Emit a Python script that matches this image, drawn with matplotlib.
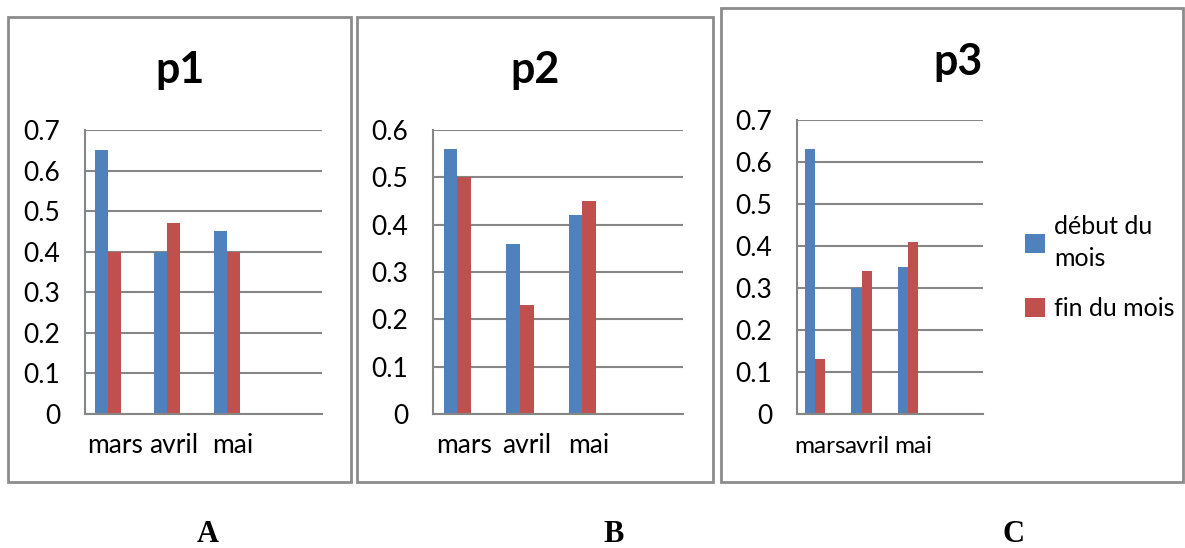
import matplotlib
matplotlib.use("Agg")
import matplotlib.pyplot as plt
from matplotlib.patches import Rectangle

plt.rcParams['font.family'] = ['Lato', 'DejaVu Sans']

months = ['mars', 'avril', 'mai']
series_names = ['début du\nmois', 'fin du mois']

p1_debut = [0.65, 0.40, 0.45]
p1_fin = [0.40, 0.47, 0.40]
p2_debut = [0.56, 0.36, 0.42]
p2_fin = [0.50, 0.23, 0.45]
p3_debut = [0.63, 0.30, 0.35]
p3_fin = [0.13, 0.34, 0.41]

titles = ['p1', 'p2', 'p3']
letters = ['A', 'B', 'C']
ymax = [0.7, 0.6, 0.7]

BLUE = '#4F81BD'
RED = '#C0504D'
GRID = '#868686'
FS = 19

W, H = 1185, 548
fig = plt.figure(figsize=(W / 100, H / 100), dpi=100)


def fx(x):
    return x / W


def fy(y):
    return 1 - y / H


# pixel layout (left, right, top, bottom) of plot areas
areas = [(85, 322, 130, 414), (433, 683, 130, 414), (797, 983, 120, 414)]
boxes = [(8, 17, 351, 482), (357, 17, 713, 482), (721, 8, 1183, 482)]
title_pos = [(180, 70), (535, 70), (958, 62)]
letter_pos = [(208, 535), (614, 535), (1013, 535)]
xlab_size = [FS, FS, FS - 1.5]
xlab_pad = [14, 14, 15.5]
data = [(p1_debut, p1_fin), (p2_debut, p2_fin), (p3_debut, p3_fin)]

for (x0, y0, x1, y1) in boxes:
    fig.patches.append(Rectangle((fx(x0), fy(y1)), fx(x1 - x0), (y1 - y0) / H,
                                 transform=fig.transFigure, fill=False,
                                 edgecolor='#8c8c8c', linewidth=2))

w = 0.22
cats = list(range(len(months) + 1))
axes = []
for i, ((l, r, t, b), (deb, fin)) in enumerate(zip(areas, data)):
    ax = fig.add_axes([fx(l), fy(b), fx(r - l), (b - t) / H])
    x = list(range(len(months)))
    ax.bar([v - w for v in x], deb, width=w, color=BLUE, label=series_names[0], zorder=3)
    ax.bar(x, fin, width=w, color=RED, label=series_names[1], zorder=3)
    ax.set_xlim(-0.5, 3.5)
    ax.set_ylim(0, ymax[i])
    ticks = [k / 10 for k in range(int(round(ymax[i] * 10)) + 1)]
    ax.set_yticks(ticks)
    ax.set_yticklabels(['0' if v == 0 else f'{v:.1f}' for v in ticks])
    ax.set_xticks(cats)
    ax.set_xticklabels(months + [''])
    ax.tick_params(axis='y', length=0, pad=18, labelsize=FS)
    ax.tick_params(axis='x', length=0, pad=xlab_pad[i], labelsize=xlab_size[i])
    ax.grid(axis='y', color=GRID, linewidth=1.5, zorder=0)
    for s in ['top', 'right']:
        ax.spines[s].set_visible(False)
    for s in ['left', 'bottom']:
        ax.spines[s].set_color(GRID)
        ax.spines[s].set_linewidth(1.5)
    ax.spines['bottom'].set_zorder(4)
    axes.append(ax)
    tx, ty = title_pos[i]
    fig.text(fx(tx), fy(ty), titles[i], ha='center', va='center',
             fontsize=31, fontweight='bold')
    lx, ly = letter_pos[i]
    fig.text(fx(lx), fy(ly), letters[i], ha='center', va='center',
             fontsize=22, fontweight='bold', family='Liberation Serif')

leg = fig.legend(*axes[2].get_legend_handles_labels(), loc='upper left',
                 bbox_to_anchor=(fx(1025), fy(215)), frameon=False,
                 fontsize=FS - 1, handlelength=0.8, handleheight=0.8,
                 handletextpad=0.35, labelspacing=1.1, borderpad=0,
                 borderaxespad=0)
for txt in leg.get_texts():
    txt.set_linespacing(1.45)

fig.savefig('out.png', dpi=100)
